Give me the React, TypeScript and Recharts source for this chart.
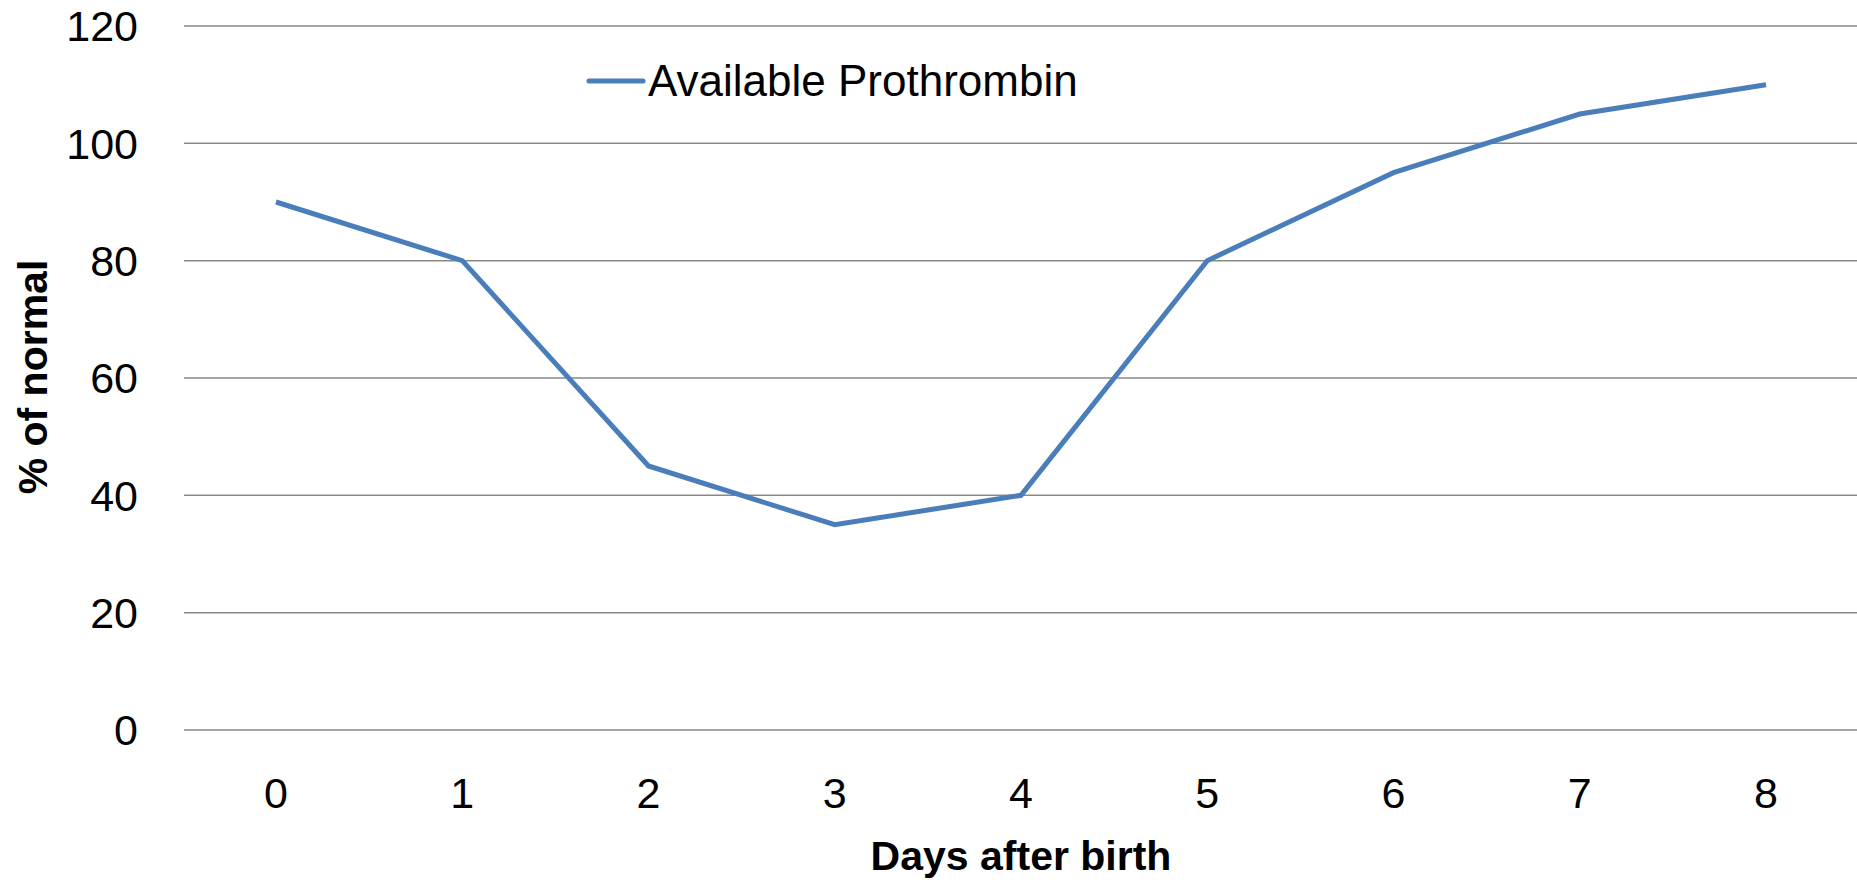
import React from 'react';
import { LineChart, Line, XAxis, YAxis, CartesianGrid } from 'recharts';

const days = ['0', '1', '2', '3', '4', '5', '6', '7', '8'];
const prothrombin = [90, 80, 45, 35, 40, 80, 95, 105, 110];
const yTicks = [0, 20, 40, 60, 80, 100, 120];
const seriesName = 'Available Prothrombin';

const data = days.map((d, i) => ({ day: d, value: prothrombin[i] }));

const FONT = '"Liberation Sans", Arial, sans-serif';
const BLUE = '#4a7ebb';

// legend drawn over the chart so it doesn't eat plot height
const LegendBox = () => (
  <div
    style={{
      position: 'absolute',
      left: 586,
      top: 56,
      display: 'flex',
      alignItems: 'center',
      fontFamily: FONT,
      fontSize: 44,
      lineHeight: '50px',
      color: '#000',
      whiteSpace: 'nowrap',
    }}
  >
    <svg width={60} height={10} style={{ marginRight: 2 }}>
      <line x1={3} y1={5} x2={57} y2={5} stroke={BLUE} strokeWidth={5} strokeLinecap="round" />
    </svg>
    <span>{seriesName}</span>
  </div>
);

const App: React.FC = () => {
  return (
    <div style={{ position: 'absolute', left: 0, top: 0, width: 1857, height: 880, overflow: 'hidden', background: '#fff' }}>
      <LineChart width={1860} height={880} data={data} margin={{ top: 26, right: 2, bottom: 0, left: 0 }}>
        <CartesianGrid vertical={false} stroke="#888888" strokeWidth={1.5} />
        <XAxis
          dataKey="day"
          height={150}
          padding={{ left: 92, right: 92 }}
          axisLine={false}
          tickLine={false}
          tickSize={0}
          tickMargin={47}
          tick={{ fill: '#000', fontSize: 43, fontFamily: FONT }}
          label={{
            content: () => (
              <text x={1021} y={870} textAnchor="middle" fontFamily={FONT} fontSize={41} fontWeight="bold" fill="#000">
                Days after birth
              </text>
            ),
          }}
        />
        <YAxis
          width={184}
          domain={[0, 120]}
          ticks={yTicks}
          axisLine={false}
          tickLine={false}
          tickSize={0}
          tickMargin={46}
          tick={{ fill: '#000', fontSize: 43, fontFamily: FONT }}
          label={{
            content: () => (
              <text
                x={47}
                y={377}
                transform="rotate(-90 47 377)"
                textAnchor="middle"
                fontFamily={FONT}
                fontSize={41}
                fontWeight="bold"
                fill="#000"
              >
                % of normal
              </text>
            ),
          }}
        />
        <Line
          type="linear"
          dataKey="value"
          name={seriesName}
          stroke={BLUE}
          strokeWidth={5}
          dot={false}
          activeDot={false}
          isAnimationActive={false}
        />
      </LineChart>
      <LegendBox />
    </div>
  );
};

export default App;
